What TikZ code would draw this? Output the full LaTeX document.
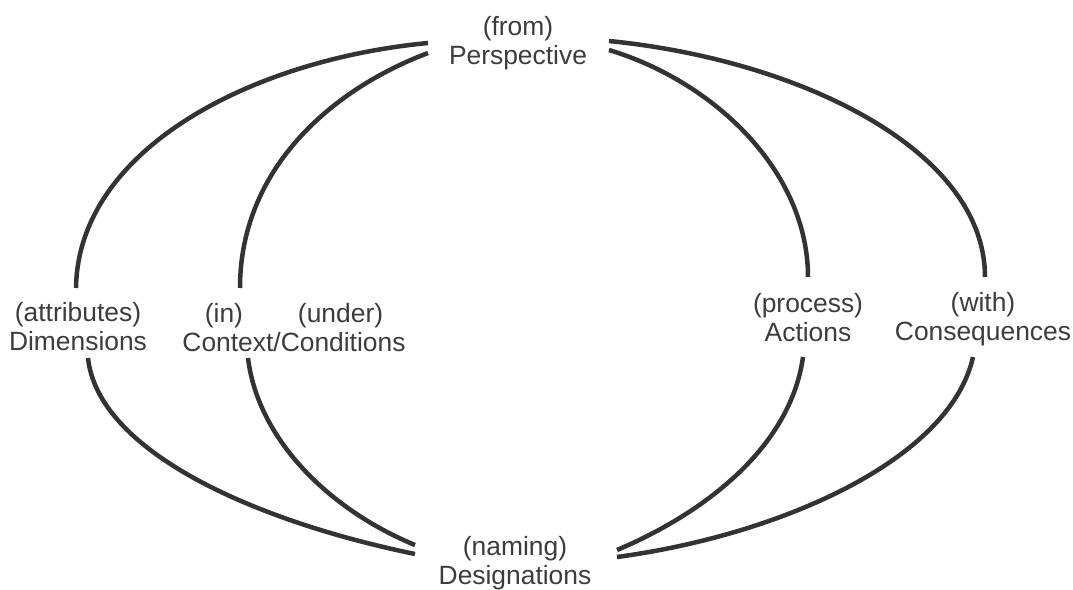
\documentclass[tikz,border=0pt]{standalone}
\usepackage{fontspec}
\setmainfont{Liberation Sans}
\definecolor{linec}{HTML}{333336}
\definecolor{textc}{HTML}{3C3C40}
\begin{document}
\begin{tikzpicture}[x=1pt,y=-1pt,
  lbl/.style={align=center,inner sep=0pt,text=textc,font=\fontsize{26.4}{29}\selectfont},
  arc/.style={draw=linec,line width=4.5pt}]
\useasboundingbox (0,0) rectangle (1073,589);
\node[lbl] (P) at (518,43) {(from)\\Perspective};
\node[lbl] (G) at (515,563) {(naming)\\Designations};
\node[lbl] (D) at (78,327) {(attributes)\\Dimensions};
\node[lbl] (C) at (294,328) {(in)\hspace{55pt}(under)\hspace{8pt}\\Context/Conditions};
\node[lbl] (A) at (808,318) {(process)\\Actions};
\node[lbl] (Q) at (983,319) {(with)\\Consequences};
% left outer
\draw[arc] ([shift={(-90,0)}]P.center) .. controls (250,60) and (78,150) .. ([shift={(-2,-39)}]D.center);
\draw[arc] ([shift={(10,31)}]D.center) .. controls (98,450) and (250,520) .. ([shift={(-100,-9)}]G.center);
% left inner
\draw[arc] ([shift={(-90,10)}]P.center) .. controls (330,90) and (240,170) .. ([shift={(-54,-40)}]C.center);
\draw[arc] ([shift={(-46,30)}]C.center) .. controls (258,440) and (330,510) .. ([shift={(-100,-18)}]G.center);
% right inner
\draw[arc] ([shift={(91,7)}]P.center) .. controls (715,82) and (808,172) .. ([shift={(0,-41)}]A.center);
\draw[arc] ([shift={(-5,39)}]A.center) .. controls (790,450) and (700,515) .. ([shift={(102,-13)}]G.center);
% right outer
\draw[arc] ([shift={(91,-2)}]P.center) .. controls (800,60) and (985,150) .. ([shift={(2,-42)}]Q.center);
\draw[arc] ([shift={(-10,38)}]Q.center) .. controls (950,460) and (780,535) .. ([shift={(102,-6)}]G.center);
\end{tikzpicture}
\end{document}
